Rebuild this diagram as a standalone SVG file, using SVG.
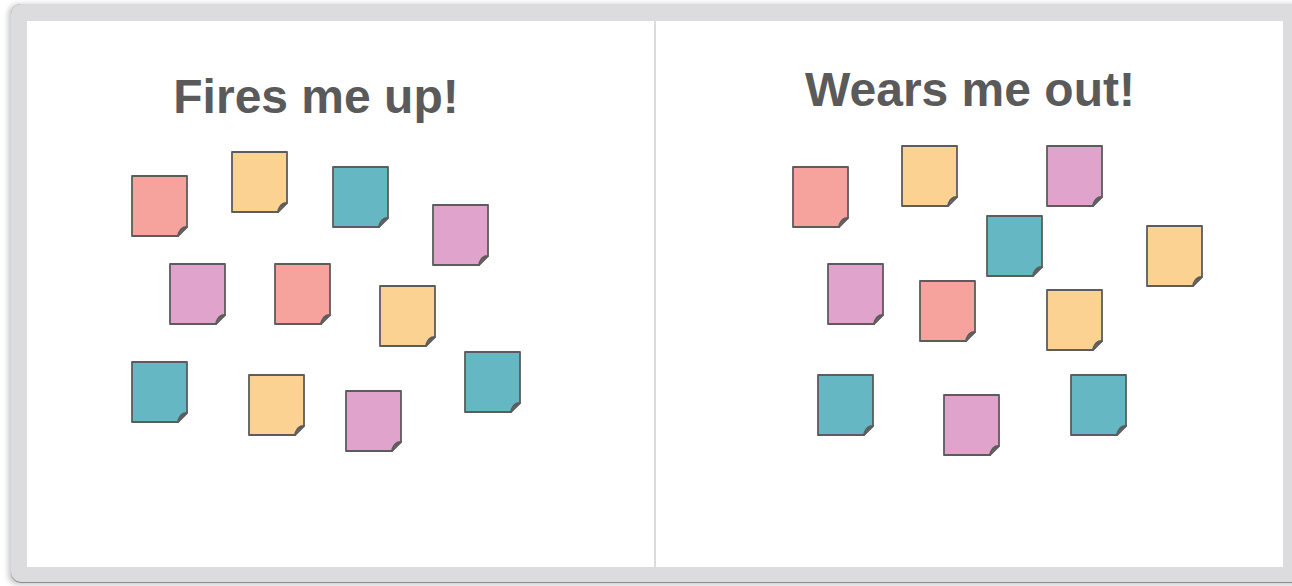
<svg xmlns="http://www.w3.org/2000/svg" width="1292" height="586" viewBox="0 0 1292 586">
  <defs>
    <filter id="sh" x="-5%" y="-5%" width="110%" height="115%">
      <feGaussianBlur stdDeviation="2.5"/>
    </filter>
    <symbol id="note" overflow="visible">
      <path d="M0,0 H55 V51 L46,60 H0 Z"/>
      <path d="M46,60 C46,56 48.5,53.5 55,51 C52,51 47.5,52.5 46,60 Z" fill-opacity="0.85"/>
    </symbol>
  </defs>
  <style>
    .title { font-family: "Liberation Sans", Arial, sans-serif; font-weight: bold; font-size: 48px; fill: #5a5a5a; text-anchor: middle; }
    .note { stroke: #5c5c5c; stroke-width: 1.8; stroke-linejoin: round; }
    .red { fill: #f6a39d; }
    .yellow { fill: #fbd291; }
    .teal { fill: #65b7c3; }
    .pink { fill: #e0a3cb; }
  </style>
  <rect width="1292" height="586" fill="#ffffff"/>
  <g id="frame">
    <rect x="8" y="4" width="1300" height="581" rx="10" fill="#c9cacd" filter="url(#sh)"/>
    <rect x="11" y="4" width="1300" height="579" rx="10" fill="#8d8d8d"/>
    <rect x="11" y="4" width="1300" height="578" rx="10" fill="#dcdcde"/>
    <rect x="27" y="21" width="1256" height="546" fill="#ffffff"/>
    <rect x="654" y="21" width="2" height="546" fill="#dcdcde"/>
  </g>
  <g id="title-left"><text class="title" x="316" y="113">Fires me up!</text></g>
  <g id="title-right"><text class="title" x="970" y="106">Wears me out!</text></g>

  <g id="left-notes">
    <g id="n1" class="note red"><use href="#note" x="132" y="176"/></g>
    <g id="n2" class="note yellow"><use href="#note" x="232" y="152"/></g>
    <g id="n3" class="note teal"><use href="#note" x="333" y="167"/></g>
    <g id="n4" class="note pink"><use href="#note" x="433" y="205"/></g>
    <g id="n5" class="note pink"><use href="#note" x="170" y="264"/></g>
    <g id="n6" class="note red"><use href="#note" x="275" y="264"/></g>
    <g id="n7" class="note yellow"><use href="#note" x="380" y="286"/></g>
    <g id="n8" class="note teal"><use href="#note" x="132" y="362"/></g>
    <g id="n9" class="note yellow"><use href="#note" x="249" y="375"/></g>
    <g id="n10" class="note pink"><use href="#note" x="346" y="391"/></g>
    <g id="n11" class="note teal"><use href="#note" x="465" y="352"/></g>
  </g>
  <g id="right-notes">
    <g id="m1" class="note red"><use href="#note" x="793" y="167"/></g>
    <g id="m2" class="note yellow"><use href="#note" x="902" y="146"/></g>
    <g id="m3" class="note pink"><use href="#note" x="1047" y="146"/></g>
    <g id="m4" class="note teal"><use href="#note" x="987" y="216"/></g>
    <g id="m5" class="note yellow"><use href="#note" x="1147" y="226"/></g>
    <g id="m6" class="note pink"><use href="#note" x="828" y="264"/></g>
    <g id="m7" class="note red"><use href="#note" x="920" y="281"/></g>
    <g id="m8" class="note yellow"><use href="#note" x="1047" y="290"/></g>
    <g id="m9" class="note teal"><use href="#note" x="818" y="375"/></g>
    <g id="m10" class="note pink"><use href="#note" x="944" y="395"/></g>
    <g id="m11" class="note teal"><use href="#note" x="1071" y="375"/></g>
  </g>
  <g id="connectors"/>
</svg>
